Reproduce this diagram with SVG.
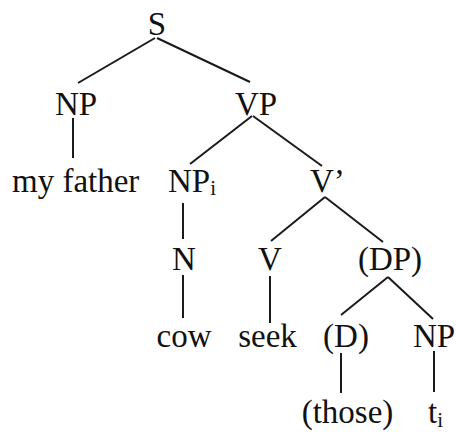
<svg xmlns="http://www.w3.org/2000/svg" width="456" height="432" viewBox="0 0 456 432">
<style>
text { font-family: "Liberation Serif", "Times New Roman", serif; font-size: 33px; fill: #111; }
.sub { font-size: 21px; }
.e line { stroke: #1a1a1a; stroke-width: 2; stroke-linecap: butt; }
</style>
<rect width="456" height="432" fill="#fff"/>
<g class="e" id="connectors">
<line x1="155" y1="38" x2="78" y2="83"/>
<line x1="157" y1="38" x2="250" y2="82"/>
<line x1="73" y1="118" x2="73" y2="158"/>
<line x1="252" y1="116" x2="190" y2="164"/>
<line x1="253" y1="116" x2="322" y2="166"/>
<line x1="183" y1="203" x2="183" y2="239"/>
<line x1="325" y1="197" x2="271" y2="241"/>
<line x1="325" y1="197" x2="383" y2="242"/>
<line x1="183" y1="275" x2="183" y2="318"/>
<line x1="270" y1="276" x2="270" y2="323"/>
<line x1="388" y1="277" x2="341" y2="315"/>
<line x1="388" y1="277" x2="433" y2="319"/>
<line x1="341" y1="353" x2="341" y2="393"/>
<line x1="434" y1="351" x2="434" y2="392"/>
</g>
<g id="S"><text x="157" y="35" text-anchor="middle">S</text></g>
<g id="NP1"><text x="76" y="115" text-anchor="middle">NP</text></g>
<g id="VP"><text x="256" y="115" text-anchor="middle">VP</text></g>
<g id="myfather"><text x="12" y="192">my father</text></g>
<g id="NPi"><text x="168" y="192">NP<tspan class="sub" dy="3">i</tspan></text></g>
<g id="Vbar"><text x="310" y="192">V’</text></g>
<g id="N"><text x="184" y="270" text-anchor="middle">N</text></g>
<g id="V"><text x="270" y="270" text-anchor="middle">V</text></g>
<g id="DP"><text x="390" y="270" text-anchor="middle">(DP)</text></g>
<g id="cow"><text x="184" y="347" text-anchor="middle">cow</text></g>
<g id="seek"><text x="267.5" y="347" text-anchor="middle">seek</text></g>
<g id="D"><text x="346" y="347" text-anchor="middle">(D)</text></g>
<g id="NP2"><text x="434" y="347" text-anchor="middle">NP</text></g>
<g id="those"><text x="347.5" y="423" text-anchor="middle">(those)</text></g>
<g id="ti"><text x="428" y="423">t<tspan class="sub" dy="4">i</tspan></text></g>
</svg>
